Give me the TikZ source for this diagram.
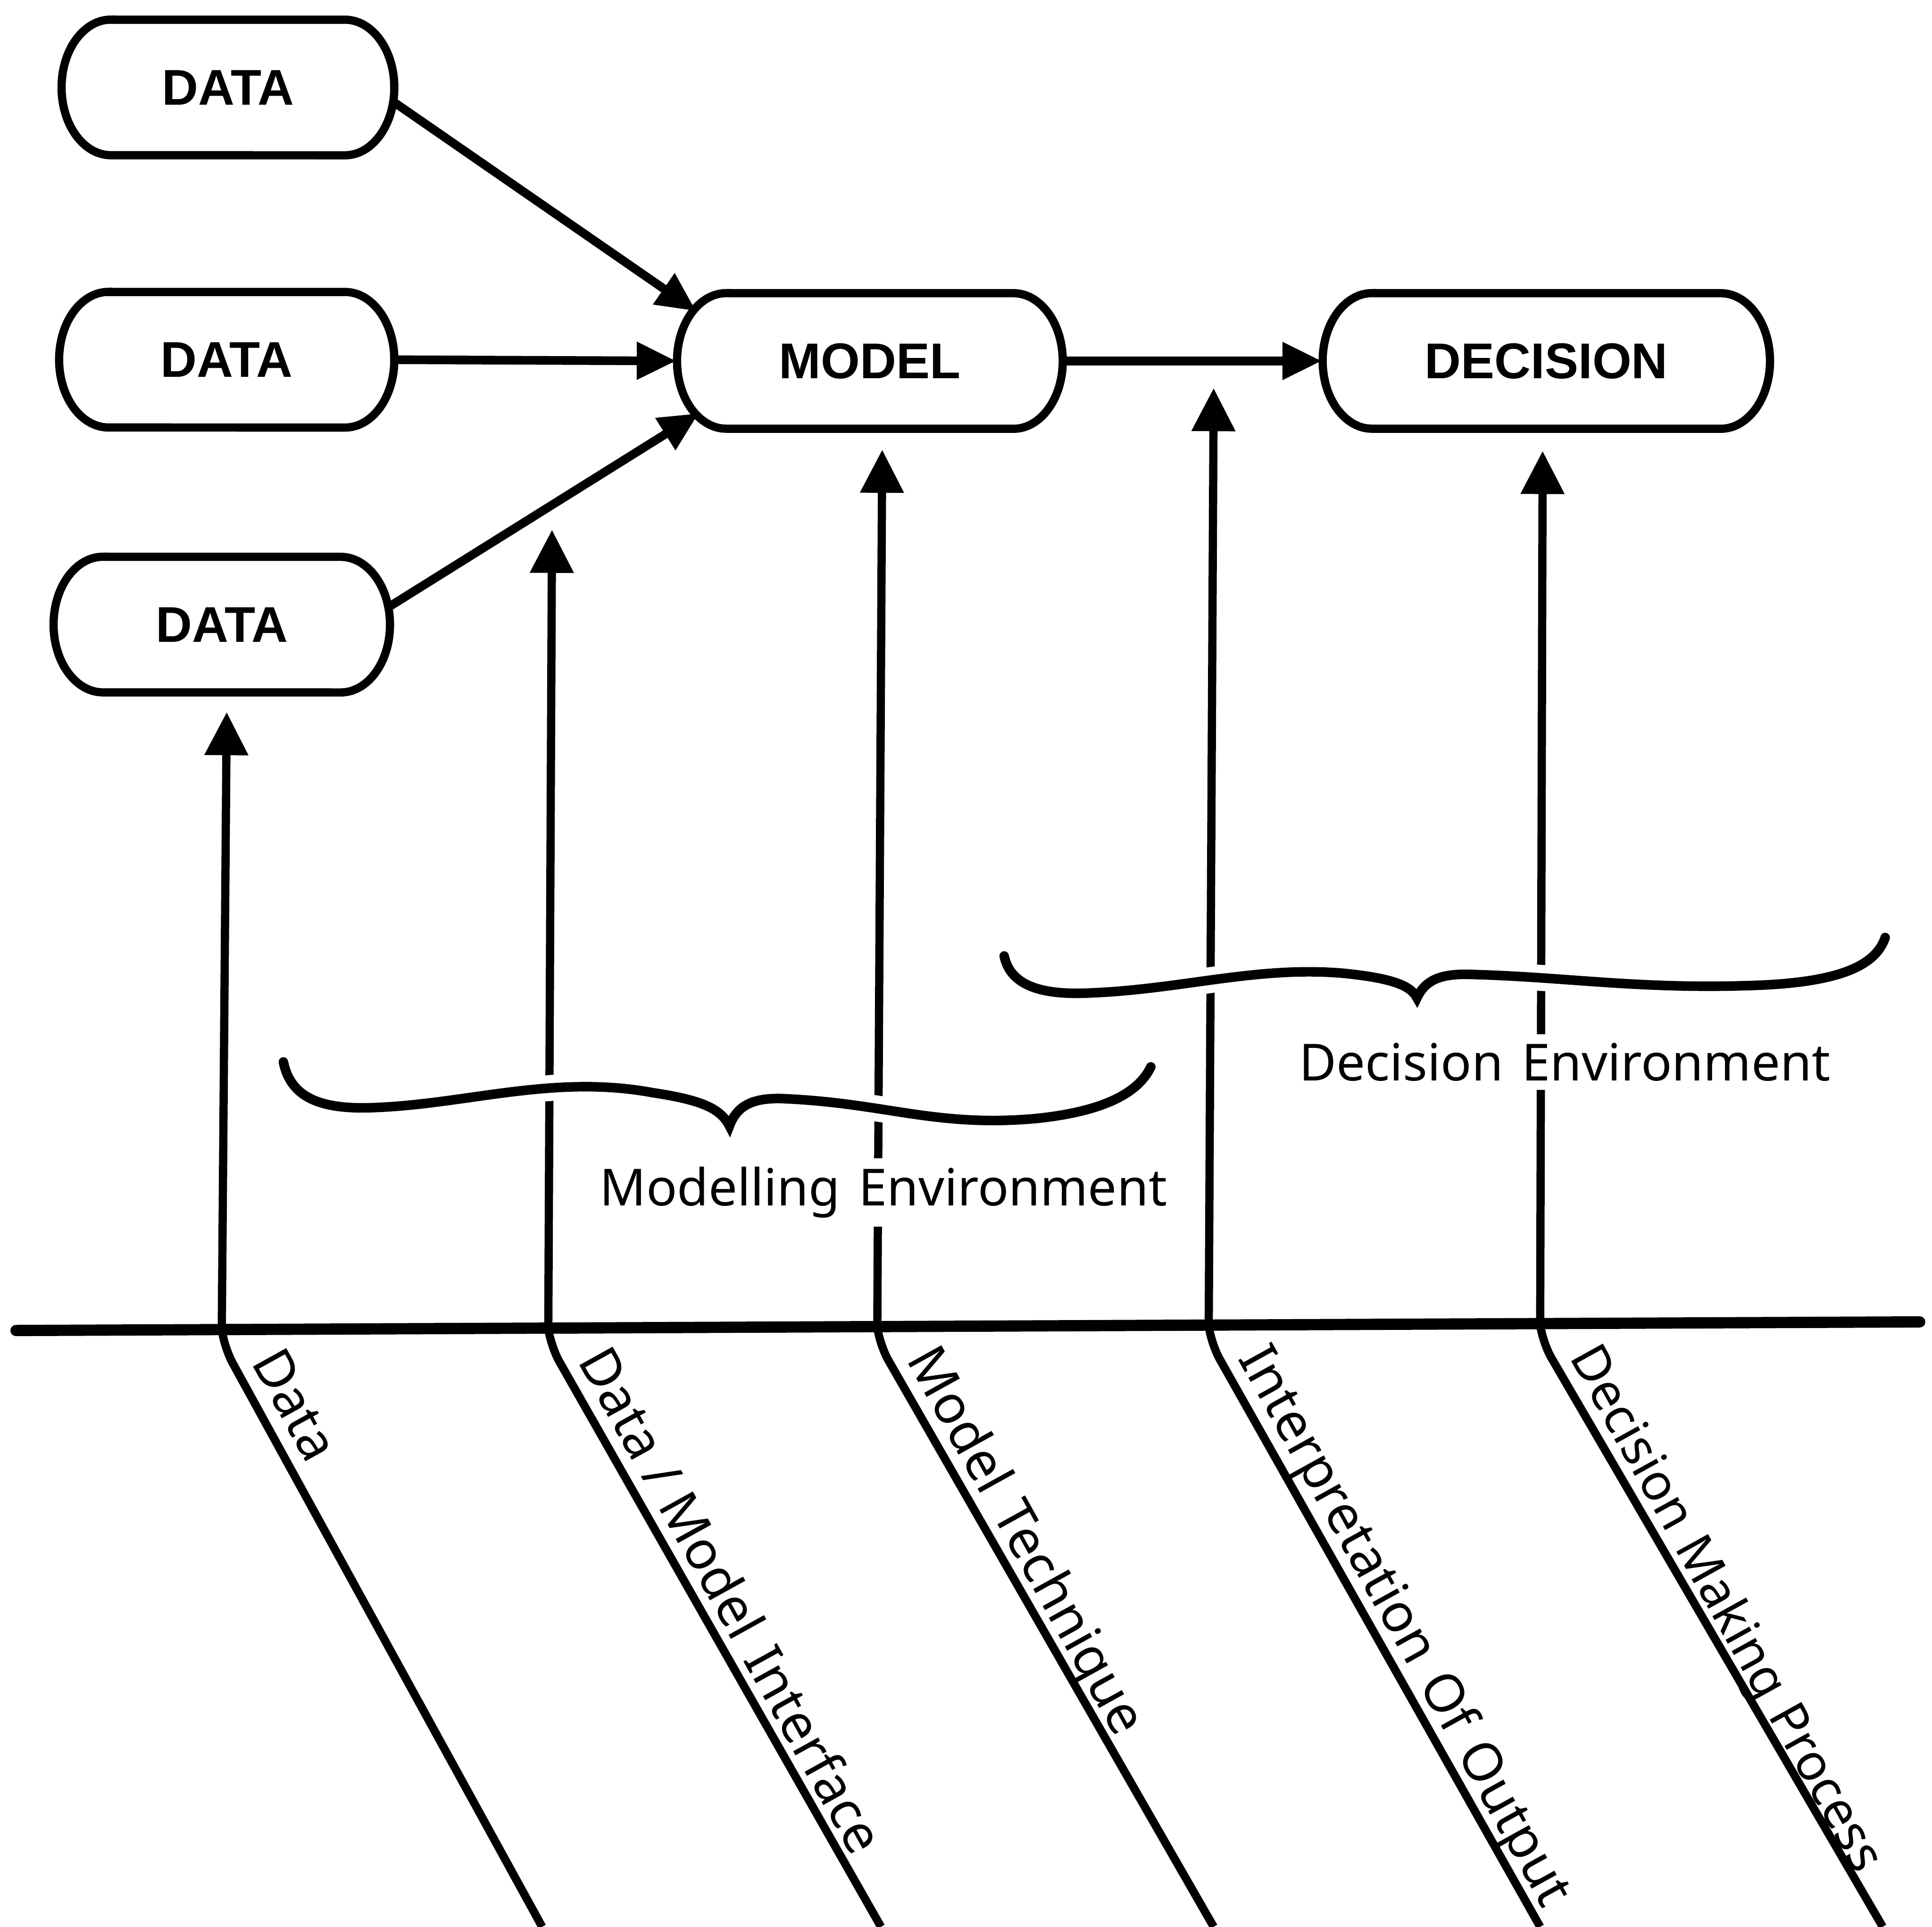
\documentclass[tikz,border=0pt]{standalone}
\usepackage{fontspec}
\setmainfont{Noto Sans}
\newfontfamily\boxfont{Liberation Sans}
\usetikzlibrary{arrows.meta,shapes.misc}
\newcommand{\wsp}{\hspace{0.36em}}
% a capsule: invisible rounded-rectangle node (gives the border for arrows)
% plus an outline with elliptic ends
% #1 name, #2 x, #3 y, #4 width, #5 text
\newcommand{\capnode}[5]{%
  \node[boxtext, minimum width=#4*0.01cm] (#1) at (#2,#3) {#5};
  \draw[boxline] (#2-#4/2+40,#3-55) -- (#2+#4/2-40,#3-55)
    arc[start angle=90, end angle=-90, x radius=0.4cm, y radius=0.55cm]
    -- (#2-#4/2+40,#3+55)
    arc[start angle=270, end angle=90, x radius=0.4cm, y radius=0.55cm] -- cycle;
}
\begin{document}
\begin{tikzpicture}[x=0.01cm,y=-0.01cm,
  boxtext/.style={rounded rectangle, rounded rectangle arc length=145,
    minimum height=1.1cm, inner sep=0pt, font=\boxfont\fontsize{11.6}{13}\selectfont\bfseries},
  boxline/.style={line width=1.9pt},
  feed/.style={line width=2pt, -{Triangle[length=0.32cm,width=0.29cm]}},
  rise/.style={line width=1.9pt, -{Triangle[length=0.35cm,width=0.34cm]}},
  axis/.style={line width=2.6pt, line cap=round},
  spoke/.style={line width=1.9pt, rounded corners=4pt},
  spokelabel/.style={anchor=base west, rotate=-61, inner sep=0pt, font=\fontsize{12.3}{15}\selectfont},
  envlabel/.style={fill=white, inner sep=2pt, font=\fontsize{11.8}{14}\selectfont},
  bracket/.style={line width=2.2pt, line cap=round, preaction={draw=white, line width=6pt}},
]
\useasboundingbox (0,0) rectangle (1568,1564);

% the boxes
\capnode{d1}{185}{71}{270}{DATA}
\capnode{d2}{184}{292}{272}{DATA}
\capnode{d3}{180}{507}{273}{DATA}
\capnode{m}{706}{293}{313}{MODEL}
\capnode{dec}{1255}{293}{363}{DECISION}

% flows into the model and on to the decision
\draw[feed] (d1.-5) -- (m.164);
\draw[feed] (d2.east) -- (m.west);
\draw[feed] (d3.6) -- (m.197);
\draw[feed] (m.east) -- (dec.west);

% the base line
\coordinate (axl) at (13,1080);
\coordinate (axr) at (1558,1073);
\draw[axis] (axl) -- (axr);

% feet of the five factors on the base line
\coordinate (b1) at (180,1079);
\coordinate (b2) at (445,1078);
\coordinate (b3) at (712,1077);
\coordinate (b4) at (981,1076);
\coordinate (b5) at (1250,1075);

% arrow tips
\coordinate (t1) at (184,578);
\coordinate (t2) at (448,430);
\coordinate (t3) at (716,365);
\coordinate (t4) at (985,315);
\coordinate (t5) at (1252,366);

\foreach \i in {1,...,5} \draw[rise] (b\i) -- (t\i);

% slanted spokes below the base line
\coordinate (k1) at (182,1094);  \coordinate (e1) at (440,1564);
\coordinate (k2) at (447,1093);  \coordinate (e2) at (715,1564);
\coordinate (k3) at (714,1092);  \coordinate (e3) at (985,1564);
\coordinate (k4) at (983,1091);  \coordinate (e4) at (1250,1564);
\coordinate (k5) at (1252,1090); \coordinate (e5) at (1528,1564);
\foreach \i in {1,...,5} \draw[spoke] (b\i) -- (k\i) -- (e\i);

\node[spokelabel] (l1) at (203,1105) {Data};
\node[spokelabel] (l2) at (468,1104) {Data / Model\wsp Interface};
\node[spokelabel] (l3) at (735,1103) {Model\wsp Technique};
\node[spokelabel] (l4) at (1004,1102) {Interpretation\wsp Of\wsp Output};
\node[spokelabel, font=\fontsize{11.7}{14}\selectfont] (l5) at (1273,1101)
  {Decision\hspace{0.3em}Making\hspace{0.3em}Process};

% braces grouping the factors
\draw[bracket] (230,862) .. controls (236,892) and (262,901) .. (305,899)
  .. controls (380,896) and (450,872) .. (530,887)
  .. controls (570,893) and (585,900) .. (592,914)
  .. controls (598,898) and (610,890) .. (640,892)
  .. controls (720,896) and (760,915) .. (840,908)
  .. controls (900,902) and (925,885) .. (934,866);
\draw[bracket] (815,776) .. controls (820,800) and (845,808) .. (885,806)
  .. controls (960,803) and (1020,784) .. (1090,790)
  .. controls (1130,794) and (1145,800) .. (1150,810)
  .. controls (1157,795) and (1170,790) .. (1195,791)
  .. controls (1270,793) and (1330,803) .. (1420,800)
  .. controls (1490,798) and (1522,785) .. (1530,761);

\node[envlabel] (menv) at (717,968) {Modelling\wsp Environment};
\node[envlabel] (denv) at (1270,862) {Decision\wsp Environment};
\end{tikzpicture}
\end{document}
